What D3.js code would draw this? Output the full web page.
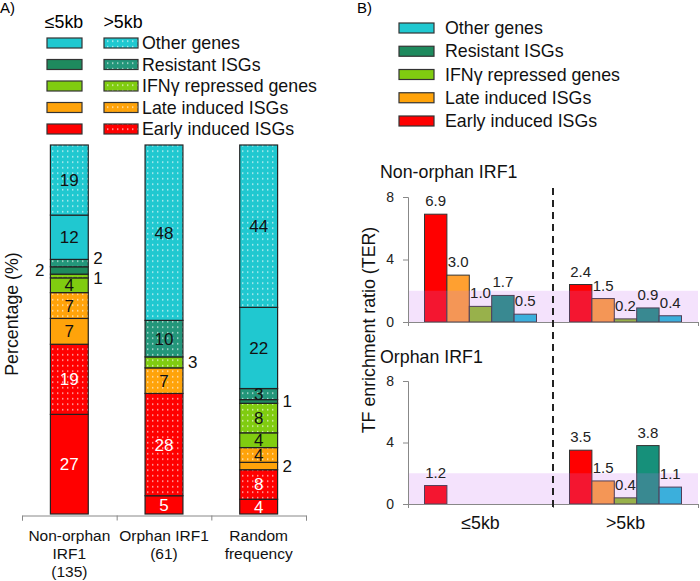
<!DOCTYPE html>
<html><head><meta charset="utf-8">
<script src="https://cdn.jsdelivr.net/npm/d3@7"></script>
<style>body{margin:0;background:#fff}svg{font-family:Arial,"Liberation Sans",sans-serif}</style>
</head><body><svg id="c" width="700" height="581"></svg>
<script>
// ---------- data ----------
const geneClasses = ["Early induced ISGs","Late induced ISGs","IFNγ repressed genes","Resistant ISGs","Other genes"];
const panelACategories = ["Non-orphan IRF1 (135)","Orphan IRF1 (61)","Random frequency"];
const panelAXLabels = [["Non-orphan","IRF1","(135)"],["Orphan IRF1","(61)"],["Random","frequency"]];
// percentages per bar, per gene class (Early, Late, IFNγ, Resistant, Other)
const nearPct = [[27,7,4,2,12],[5,0,0,0,0],[4,2,4,1,22]];   // ≤5kb
const farPct  = [[19,7,1,2,19],[28,7,3,10,48],[8,4,8,3,44]]; // >5kb
const distanceLabels = ["≤5kb", ">5kb"];
const terNonOrphanNear = [6.9,3.0,1.0,1.7,0.5];
const terNonOrphanFar  = [2.4,1.5,0.2,0.9,0.4];
const terOrphanNear    = [1.2,null,null,null,null];
const terOrphanFar     = [3.5,1.5,0.4,3.8,1.1];
const terTicks = [0,4,8];
const terThreshold = 2;

// ---------- styles ----------
const colA = ["#ff0000","#ffa30a","#80cc10","#1e8a5e","#20c8d0"];
const colAfar = ["#ff0000","#ffa30a","#80cc10","#23967a","#20c8d0"];
const colB = ["#ff0000","#ffa030","#8cc222","#16907a","#18c0d8"];
// outside label placement [bar-class-distance] -> [side, vertical nudge]
const outsideLabels = {"0-3-1":["right",-5],"0-3-0":["left",0],"0-2-1":["right",2],"1-2-1":["right",0],"2-3-0":["right",0],"2-1-0":["right",0]};
const FS = 17.8;

const svg = d3.select("#c");
const defs = svg.append("defs");
colAfar.forEach((c,i)=>{
  const p = defs.append("pattern").attr("id","dot"+i).attr("patternUnits","userSpaceOnUse")
    .attr("width",5).attr("height",5.5);
  p.append("rect").attr("width",5).attr("height",5.5).attr("fill",c);
  p.append("rect").attr("x",2).attr("y",2).attr("width",1.4).attr("height",1.4).attr("fill","#fff").attr("opacity",0.75);
});

// ---------- Panel A ----------
svg.append("text").attr("x",0).attr("y",13).attr("font-size",15).text("A)");
svg.append("text").attr("x",64).attr("y",28).attr("font-size",FS).attr("text-anchor","middle").text("≤5kb");
svg.append("text").attr("x",123).attr("y",28).attr("font-size",FS).attr("text-anchor","middle").text(">5kb");
const legRowsA = d3.scalePoint().domain(d3.range(5)).range([43,129]);
[4,3,2,1,0].forEach((ci,r)=>{
  const y = legRowsA(r);
  svg.append("rect").attr("x",47).attr("y",y-5).attr("width",35).attr("height",10)
    .attr("fill",colA[ci]).attr("stroke","#333").attr("stroke-width",1.2);
  svg.append("rect").attr("x",104).attr("y",y-5).attr("width",34).attr("height",10)
    .attr("fill",`url(#dot${ci})`).attr("stroke","#333").attr("stroke-width",1.2);
  svg.append("text").attr("x",142).attr("y",y+6).attr("font-size",FS).attr("fill","#111").text(geneClasses[ci]);
});

const xA = d3.scaleBand().domain(panelACategories).range([22,306]).paddingInner(0.6).paddingOuter(0.3);
const yA = d3.scaleLinear().domain([0,1]).range([514,145]);
panelACategories.forEach((cat,bi)=>{
  const segs=[];
  geneClasses.forEach((g,ci)=>{
    segs.push({ci,d:0,v:nearPct[bi][ci]});
    segs.push({ci,d:1,v:farPct[bi][ci]});
  });
  const total = d3.sum(segs,s=>s.v);
  let cum=0;
  segs.forEach(s=>{s.y0=cum/total; cum+=s.v; s.y1=cum/total;});
  const g = svg.append("g");
  const x0 = xA(cat), w = xA.bandwidth();
  segs.filter(s=>s.v>0).forEach(s=>{
    g.append("rect").attr("x",x0).attr("y",yA(s.y1)).attr("width",w).attr("height",yA(s.y0)-yA(s.y1))
      .attr("fill", s.d===0?colA[s.ci]:`url(#dot${s.ci})`).attr("stroke","#222").attr("stroke-width",1.2);
  });
  segs.filter(s=>s.v>0).forEach(s=>{
    const key=`${bi}-${s.ci}-${s.d}`;
    const o=outsideLabels[key];
    const ym=(yA(s.y0)+yA(s.y1))/2;
    const t=g.append("text").attr("font-size",17).attr("y",ym+6+(o?o[1]:0)).text(s.v);
    if(o&&o[0]==="right") t.attr("x",x0+w+5).attr("text-anchor","start").attr("fill","#111");
    else if(o&&o[0]==="left") t.attr("x",x0-6).attr("text-anchor","end").attr("fill","#111");
    else t.attr("x",x0+w/2).attr("text-anchor","middle").attr("fill", s.ci===0?"#fff":"#111");
  });
});
const axA = svg.append("g").attr("transform","translate(0,515.5)")
  .call(d3.axisBottom(d3.scaleLinear().domain([0,3]).range([22,306])).tickValues([0,1,2,3]).tickSize(5).tickFormat(""));
axA.selectAll("path,line").attr("stroke","#888");
panelACategories.forEach((cat,i)=>{
  panelAXLabels[i].forEach((ln,j)=>{
    svg.append("text").attr("x",xA(cat)+xA.bandwidth()/2).attr("y",541+j*18).attr("text-anchor","middle")
      .attr("font-size",15.5).attr("fill","#111").text(ln);
  });
});
svg.append("text").attr("transform","translate(18,314) rotate(-90)").attr("text-anchor","middle")
  .attr("font-size",FS).attr("fill","#111").text("Percentage (%)");

// ---------- Panel B ----------
svg.append("text").attr("x",357).attr("y",13).attr("font-size",15).text("B)");
const legRowsB = d3.scalePoint().domain(d3.range(5)).range([28,121]);
[4,3,2,1,0].forEach((ci,r)=>{
  const y=legRowsB(r);
  svg.append("rect").attr("x",399).attr("y",y-5).attr("width",35).attr("height",10)
    .attr("fill",colA[ci]).attr("stroke","#333").attr("stroke-width",1.2);
  svg.append("text").attr("x",445).attr("y",y+6).attr("font-size",FS).attr("fill","#111").text(geneClasses[ci]);
});

const xB = d3.scaleBand().domain(distanceLabels).range([408,698]);
const xInner = d3.scaleBand().domain(d3.range(5)).range([-56,56]);
function subplot(title,titleY,y0,y8,near,far){
  const y = d3.scaleLinear().domain([0,8]).range([y0,y8]);
  svg.append("text").attr("x",380).attr("y",titleY).attr("font-size",FS).attr("fill","#111").text(title);
  const g=svg.append("g"), gl=svg.append("g");
  [near,far].forEach((vals,di)=>{
    const cx = xB(distanceLabels[di])+xB.bandwidth()/2;
    vals.forEach((v,ci)=>{
      if(v==null) return;
      g.append("rect").attr("x",cx+xInner(ci)).attr("y",y(v)).attr("width",xInner.bandwidth())
        .attr("height",y(0)-y(v)).attr("fill",colB[ci]).attr("stroke","#333").attr("stroke-width",1);
      gl.append("text").attr("x",cx+xInner(ci)+xInner.bandwidth()/2).attr("y",y(v)-8)
        .attr("text-anchor","middle").attr("font-size",15).attr("fill","#222").text(v.toFixed(1));
    });
  });
  g.append("rect").attr("x",408).attr("y",y(terThreshold)).attr("width",290).attr("height",y(0)-y(terThreshold))
    .attr("fill","#c86ef0").attr("opacity",0.2);
  const ay = svg.append("g").attr("transform","translate(408,0)")
    .call(d3.axisLeft(y).tickValues(terTicks).tickSize(5).tickPadding(9));
  ay.selectAll("path,line").attr("stroke","#888");
  ay.selectAll("text").attr("font-size",14).attr("fill","#222").attr("font-family","Arial,'Liberation Sans',sans-serif");
  const ax = svg.append("g").attr("transform",`translate(0,${y0})`)
    .call(d3.axisBottom(d3.scaleLinear().domain([0,2]).range([408,698])).tickValues([0,1,2]).tickSize(4).tickFormat(""));
  ax.selectAll("path,line").attr("stroke","#888");
}
subplot("Non-orphan IRF1",178,322,197,terNonOrphanNear,terNonOrphanFar);
subplot("Orphan IRF1",363,504,381,terOrphanNear,terOrphanFar);
svg.append("line").attr("x1",xB(">5kb")).attr("x2",xB(">5kb")).attr("y1",188).attr("y2",508)
  .attr("stroke","#222").attr("stroke-width",2).attr("stroke-dasharray","7,5");
distanceLabels.forEach(d=>{
  svg.append("text").attr("x",xB(d)+xB.bandwidth()/2).attr("y",529).attr("text-anchor","middle")
    .attr("font-size",FS).attr("fill","#111").text(d);
});
svg.append("text").attr("transform","translate(375,330) rotate(-90)").attr("text-anchor","middle")
  .attr("font-size",FS).attr("fill","#111").text("TF enrichment ratio (TER)");
</script></body></html>
